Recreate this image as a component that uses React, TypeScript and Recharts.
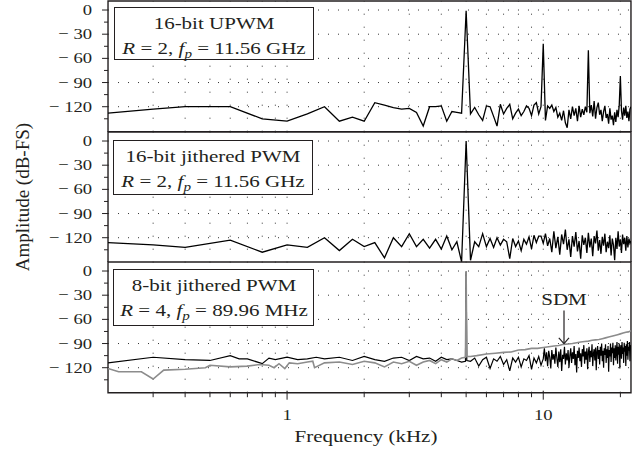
import React from 'react'
import { LineChart, Line, XAxis, YAxis, ReferenceLine, ReferenceArea } from 'recharts'

// frequency bins (kHz) shared by the two 16-bit panels
const binFreq = [
  0.2, 0.3, 0.4, 0.6, 0.8, 1.0, 1.2, 1.4, 1.6, 1.8,
  2.0, 2.2, 2.4, 2.6, 2.8, 3.0, 3.2, 3.4, 3.6, 3.8,
  4.0, 4.2, 4.4, 4.6, 4.8, 5.0, 5.2, 5.4, 5.6, 5.8,
  6.0, 6.2, 6.4, 6.6, 6.8, 7.0, 7.2, 7.4, 7.6, 7.8,
  8.0, 8.2, 8.4, 8.6, 8.8, 9.0, 9.2, 9.4, 9.6, 9.8,
  10.0, 10.2, 10.4, 10.6, 10.8, 11.0, 11.2, 11.4, 11.6, 11.8,
  12.0, 12.2, 12.4, 12.6, 12.8, 13.0, 13.2, 13.4, 13.6, 13.8,
  14.0, 14.2, 14.4, 14.6, 14.8, 15.0, 15.2, 15.4, 15.6, 15.8,
  16.0, 16.2, 16.4, 16.6, 16.8, 17.0, 17.2, 17.4, 17.6, 17.8,
  18.0, 18.2, 18.4, 18.6, 18.8, 19.0, 19.2, 19.4, 19.6, 19.8,
  20.0, 20.2, 20.4, 20.6, 20.8, 21.0, 21.2, 21.4, 21.6, 21.8,
  22.0,
]

const upwmAmp = [
  -128, -123, -120, -120, -135, -138, -129, -120, -138, -133,
  -138, -115, -118, -121, -123, -122, -127, -144, -120, -120,
  -119, -138, -126, -127, -128, -1, -129, -121, -130, -137,
  -119, -120, -132, -144, -117, -129, -122, -117, -135, -128,
  -123, -131, -126, -119, -122, -131, -118, -115, -129, -120,
  -42, -137, -119, -122, -118, -126, -121, -133, -128, -137,
  -125, -140, -146, -124, -135, -120, -131, -122, -138, -119,
  -133, -123, -130, -120, -127, -50, -128, -118, -132, -113,
  -135, -121, -115, -130, -124, -138, -126, -119, -134, -129,
  -141, -122, -136, -131, -143, -127, -139, -124, -133, -118,
  -82, -125, -136, -121, -131, -119, -134, -126, -138, -123,
  -120,
]

const jitAmp = [
  -126, -129, -132, -123, -138, -129, -132, -120, -136, -122,
  -131, -126, -145, -120, -131, -115, -131, -122, -133, -122,
  -134, -118, -135, -125, -150, 0, -148, -125, -131, -115,
  -131, -121, -132, -120, -129, -122, -125, -146, -121, -131,
  -124, -136, -122, -128, -119, -134, -117, -126, -118, -118,
  -127, -115, -130, -121, -138, -112, -133, -119, -141, -116,
  -128, -110, -135, -122, -144, -118, -131, -113, -137, -124,
  -146, -117, -129, -120, -139, -114, -132, -121, -143, -118,
  -127, -111, -136, -123, -140, -119, -130, -115, -138, -125,
  -133, -117, -142, -121, -129, -148, -120, -134, -112, -131,
  -122, -139, -116, -128, -120, -136, -118, -132, -121, -127,
  -124,
]

// 8-bit jittered PWM (black)
const pwm8Freq = [
  0.2, 0.3, 0.4, 0.5, 0.6, 0.65, 0.7, 0.8, 0.85, 0.9,
  1.0, 1.1, 1.2, 1.3, 1.4, 1.6, 1.8, 2.0, 2.2, 2.4,
  2.6, 2.8, 3.0, 3.2, 3.4, 3.6, 3.8, 4.0, 4.2, 4.4,
  4.6, 4.8, 4.97, 5.0, 5.03, 5.2, 5.4, 5.6, 5.8, 6.0, 6.2, 6.4,
  6.6, 6.8, 7.0, 7.2, 7.4, 7.6, 7.8, 8.0, 8.2, 8.4,
  8.6, 8.8, 9.0, 9.2, 9.4, 9.6, 9.8, 10.0,
  10.1, 10.2, 10.3, 10.4, 10.5, 10.6, 10.7, 10.8, 10.9, 11.0,
  11.1, 11.2, 11.3, 11.4, 11.5, 11.6, 11.7, 11.8, 11.9, 12.0,
  12.1, 12.2, 12.3, 12.4, 12.5, 12.6, 12.7, 12.8, 12.9, 13.0,
  13.1, 13.2, 13.3, 13.4, 13.5, 13.6, 13.7, 13.8, 13.9, 14.0,
  14.1, 14.2, 14.3, 14.4, 14.5, 14.6, 14.7, 14.8, 14.9, 15.0,
  15.1, 15.2, 15.3, 15.4, 15.5, 15.6, 15.7, 15.8, 15.9, 16.0,
  16.1, 16.2, 16.3, 16.4, 16.5, 16.6, 16.7, 16.8, 16.9, 17.0,
  17.1, 17.2, 17.3, 17.4, 17.5, 17.6, 17.7, 17.8, 17.9, 18.0,
  18.1, 18.2, 18.3, 18.4, 18.5, 18.6, 18.7, 18.8, 18.9, 19.0,
  19.1, 19.2, 19.3, 19.4, 19.5, 19.6, 19.7, 19.8, 19.9, 20.0,
  20.1, 20.2, 20.3, 20.4, 20.5, 20.6, 20.7, 20.8, 20.9, 21.0,
  21.1, 21.2, 21.3, 21.4, 21.5, 21.6, 21.7, 21.8, 21.9, 22.0,
]

const pwm8Amp = [
  -114, -107, -110, -111, -105, -109, -109, -115, -108, -110,
  -107, -110, -109, -107, -109, -107, -111, -106, -110, -112,
  -108, -107, -111, -106, -109, -108, -112, -107, -110, -109,
  -111, -113, -112, -1, -111, -112, -108, -118, -110, -107, -121, -109,
  -112, -106, -116, -110, -124, -108, -113, -107, -119, -109,
  -111, -105, -122, -108, -114, -106, -117, -109,
  -96, -112, -101, -118, -99, -107, -121, -98, -110, -103,
  -115, -95, -108, -119, -100, -113, -97, -124, -104, -109,
  -94, -116, -102, -111, -98, -120, -105, -96, -114, -101,
  -109, -93, -117, -103, -126, -99, -108, -95, -112, -102,
  -119, -97, -106, -92, -115, -100, -110, -96, -122, -101,
  -94, -113, -99, -107, -91, -118, -102, -97, -111, -95,
  -123, -100, -93, -109, -98, -116, -94, -105, -90, -112,
  -99, -120, -96, -104, -91, -114, -97, -108, -93, -125,
  -98, -106, -90, -113, -95, -102, -89, -117, -96, -108,
  -92, -111, -99, -88, -115, -94, -104, -90, -121, -97,
  -92, -109, -88, -103, -95, -114, -89, -100, -93, -118,
  -91, -105, -87, -110, -94, -99, -88, -112, -92, -97,
]

// sigma-delta modulator reference (grey)
const sdmFreq = [
  0.2, 0.22, 0.27, 0.3, 0.33, 0.4, 0.48, 0.5, 0.6, 0.7,
  0.78, 0.85, 0.89, 0.93, 0.98, 1.02, 1.1, 1.2, 1.26, 1.28,
  1.4, 1.6, 1.8, 2.0, 2.2, 2.4, 2.6, 2.8, 3.0, 3.2,
  3.4, 3.6, 3.8, 4.0, 4.2, 4.4, 4.6, 4.8, 4.97, 5.0, 5.03, 5.2,
  5.5, 6.0, 6.5, 7.0, 7.5, 8.0, 8.5, 9.0, 9.5, 10.0,
  10.5, 11.0, 11.5, 12.0, 12.5, 13.0, 13.5, 14.0, 14.5, 15.0,
  15.5, 16.0, 16.5, 17.0, 17.5, 18.0, 18.5, 19.0, 19.5, 20.0,
  20.5, 21.0, 21.5, 22.0,
]

const sdmAmp = [
  -121, -125, -125, -134, -123, -122, -120, -117, -119, -118,
  -116, -117, -120, -115, -121, -114, -115, -113, -112, -120,
  -114, -113, -116, -112, -114, -119, -113, -115, -112, -117,
  -113, -111, -115, -110, -113, -109, -111, -108, -107, 0, -106, -106,
  -105, -103, -102, -101, -100.5, -98, -97.5, -96, -96, -95,
  -94, -93, -92.5, -91, -90.5, -90, -89, -88, -87.5, -87,
  -86, -85.5, -85, -84, -83, -82, -81, -80, -79, -78,
  -77, -76, -75.5, -74,
]

const xTicks = [0.3, 0.4, 0.5, 0.6, 0.7, 0.8, 0.9, 1, 2, 3, 4, 5, 6, 7, 8, 9, 10, 20]
const xLabels = [1, 10]
const yTicks = [-135, -120, -105, -90, -75, -60, -45, -30, -15, 0]
const yGrid = [0, -30, -60, -90, -120]

const F_MIN = 0.2
const F_MAX = 22
const Y_MIN = -151
const Y_MAX = 11.2

const FONT = '"Liberation Serif", "Times New Roman", serif'
const INK = '#231f20'
const W = 641
const PLOT_L = 108
const PLOT_R = 631
const PANEL_H = 130.7
const PANEL_TOPS = [1, 131.7, 262.4]
const X_AXIS_H = 60
const STRETCH = 1.2

const toPoints = (freq: number[], amp: number[]) => freq.map((f, i) => ({ f, a: amp[i] }))

const fmtMinus = (v: number) => (v < 0 ? `\u2212 ${Math.abs(v)}` : String(v))

const LeftTick = (props: any) => {
  const { y, payload } = props
  const v = payload.value as number
  const major = v % 30 === 0
  return (
    <g>
      <line x1={PLOT_L - (major ? 6 : 4)} x2={PLOT_L} y1={y} y2={y} stroke={INK} strokeWidth={1} />
      {major && (
        <text
          transform={`translate(${PLOT_L - 16},${y}) scale(${STRETCH},1)`}
          textAnchor="end"
          dominantBaseline="central"
          fontFamily={FONT}
          fontSize={15.5}
          fill={INK}
        >
          {fmtMinus(v)}
        </text>
      )}
    </g>
  )
}

const TopTick = (props: any) => {
  const { x, payload } = props
  const major = xLabels.includes(payload.value)
  return <line x1={x} x2={x} y1={1} y2={1 + (major ? 7 : 4.5)} stroke={INK} strokeWidth={1} />
}

const BottomTick = (props: any) => {
  const { x, payload } = props
  const yb = 1 + PANEL_H
  const major = xLabels.includes(payload.value)
  return (
    <g>
      <line x1={x} x2={x} y1={yb - (major ? 2 : 0)} y2={yb + (major ? 7 : 4.5)} stroke={INK} strokeWidth={1} />
      {major && (
        <text
          transform={`translate(${x},${yb + 22}) scale(${STRETCH},1)`}
          textAnchor="middle"
          dominantBaseline="central"
          fontFamily={FONT}
          fontSize={15.5}
          fill={INK}
        >
          {payload.value}
        </text>
      )}
    </g>
  )
}

type Series = { data: { f: number; a: number }[]; color: string; width: number }

function Panel({ top, series, bottom, children }: { top: number; series: Series[]; bottom?: boolean; children?: React.ReactNode }) {
  return (
    <div style={{ position: 'absolute', left: 0, top: top - 1 }}>
      <LineChart
        width={W}
        height={1 + PANEL_H + (bottom ? X_AXIS_H : 0)}
        margin={{ top: 1, right: W - PLOT_R, bottom: 0, left: 0 }}
      >
        <XAxis
          dataKey="f"
          type="number"
          scale="log"
          domain={[F_MIN, F_MAX]}
          allowDataOverflow
          ticks={xTicks}
          interval={0}
          hide={!bottom}
          height={X_AXIS_H}
          axisLine={false}
          tickLine={false}
          tick={<BottomTick />}
        />
        <XAxis
          xAxisId="top"
          orientation="top"
          type="number"
          scale="log"
          domain={[F_MIN, F_MAX]}
          allowDataOverflow
          ticks={xTicks}
          interval={0}
          height={0}
          axisLine={false}
          tickLine={false}
          tick={<TopTick />}
        />
        <YAxis
          type="number"
          domain={[Y_MIN, Y_MAX]}
          allowDataOverflow
          ticks={yTicks}
          interval={0}
          width={PLOT_L}
          axisLine={false}
          tickLine={false}
          tick={<LeftTick />}
        />
        {yGrid.map(v => (
          <ReferenceLine key={`h${v}`} y={v} stroke="#333" strokeWidth={1} strokeDasharray="1 9" />
        ))}
        {xTicks.map(v => (
          <ReferenceLine key={`v${v}`} x={v} stroke="#333" strokeWidth={1} strokeDasharray="1 12" />
        ))}
        {series.map((s, i) => (
          <Line
            key={i}
            data={s.data}
            dataKey="a"
            type="linear"
            stroke={s.color}
            strokeWidth={s.width}
            dot={false}
            isAnimationActive={false}
          />
        ))}
        {children}
        <ReferenceArea
          x1={F_MIN}
          x2={F_MAX}
          y1={Y_MIN}
          y2={Y_MAX}
          fill="none"
          fillOpacity={0}
          stroke={INK}
          strokeWidth={1.4}
          ifOverflow="visible"
        />
      </LineChart>
    </div>
  )
}

const textLine = (cx: number, cy: number, content: React.ReactNode, size = 17.5) => (
  <div
    style={{
      position: 'absolute',
      left: cx,
      top: cy,
      transform: `translate(-50%, -50%) scaleX(${STRETCH})`,
      whiteSpace: 'nowrap',
      fontFamily: FONT,
      fontSize: size,
      lineHeight: 1,
      color: INK,
    }}
  >
    {content}
  </div>
)

const sub = (s: string) => (
  <sub style={{ fontSize: '0.72em', verticalAlign: 'baseline', position: 'relative', top: '0.3em' }}>
    <i>{s}</i>
  </sub>
)

function LegendBox({ left, top, w, h, l1, l2 }: { left: number; top: number; w: number; h: number; l1: React.ReactNode; l2: React.ReactNode }) {
  return (
    <div
      style={{
        position: 'absolute',
        left,
        top,
        width: w,
        height: h,
        boxSizing: 'border-box',
        border: `1.5px solid ${INK}`,
        background: '#fff',
      }}
    >
      {textLine(w / 2 - 1, 16, l1)}
      {textLine(w / 2 - 1, 41, l2)}
    </div>
  )
}

const paramLine = (r: string, fp: string) => (
  <span>
    <i>R</i> = {r}, <i>f</i>
    {sub('p')} = {fp}
  </span>
)

export default function App() {
  const upwm = toPoints(binFreq, upwmAmp)
  const jit = toPoints(binFreq, jitAmp)
  const pwm8 = toPoints(pwm8Freq, pwm8Amp)
  const sdm = toPoints(sdmFreq, sdmAmp)

  return (
    <div style={{ position: 'absolute', left: 0, top: 0, width: W, height: 465, background: '#fff' }}>
      <Panel top={PANEL_TOPS[0]} series={[{ data: upwm, color: '#000', width: 1.3 }]} />
      <Panel top={PANEL_TOPS[1]} series={[{ data: jit, color: '#000', width: 1.3 }]} />
      <Panel
        top={PANEL_TOPS[2]}
        bottom
        series={[
          { data: pwm8, color: '#000', width: 1.2 },
          { data: sdm, color: '#8c8c8c', width: 1.6 },
        ]}
      >
        <ReferenceLine segment={[{ x: 12.05, y: -49 }, { x: 12.05, y: -90 }]} stroke={INK} strokeWidth={1.2} />
        <ReferenceLine segment={[{ x: 11.5, y: -83 }, { x: 12.05, y: -90 }]} stroke={INK} strokeWidth={1.2} />
        <ReferenceLine segment={[{ x: 12.6, y: -83 }, { x: 12.05, y: -90 }]} stroke={INK} strokeWidth={1.2} />
      </Panel>

      <LegendBox left={114} top={7} w={200} h={53} l1="16-bit UPWM" l2={paramLine('2', '11.56 GHz')} />
      <LegendBox left={113} top={140} w={200} h={55} l1="16-bit jithered PWM" l2={paramLine('2', '11.56 GHz')} />
      <LegendBox left={113} top={269} w={201} h={57} l1="8-bit jithered PWM" l2={paramLine('4', '89.96 MHz')} />

      {textLine(564, 300, 'SDM')}
      {textLine(366, 437, 'Frequency (kHz)')}
      <div
        style={{
          position: 'absolute',
          left: 22,
          top: 197,
          transform: 'translate(-50%, -50%) rotate(-90deg)',
          whiteSpace: 'nowrap',
          fontFamily: FONT,
          fontSize: 19,
          lineHeight: 1,
          color: INK,
        }}
      >
        Amplitude (dB-FS)
      </div>
    </div>
  )
}
